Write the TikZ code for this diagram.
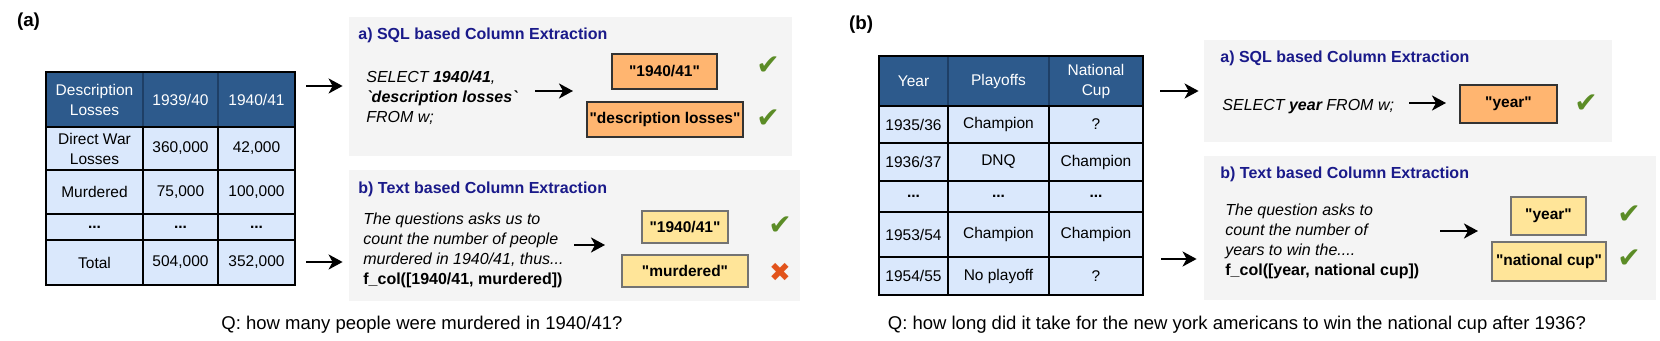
\documentclass[tikz,border=0pt]{standalone}
\usepackage{fontspec}
\setmainfont{Liberation Sans}
\newfontfamily\iconfont{DejaVu Sans}
\usepackage{xcolor}
\usetikzlibrary{positioning,arrows.meta}

\definecolor{hdrblue}{HTML}{2D5A8C}
\definecolor{hdrline}{HTML}{1E3F66}
\definecolor{cellblue}{HTML}{DAE8FC}
\definecolor{panelgray}{HTML}{F4F4F4}
\definecolor{titlenavy}{HTML}{1A1A8A}
\definecolor{sqlorange}{HTML}{FFB570}
\definecolor{textyellow}{HTML}{FFE599}
\definecolor{okgreen}{HTML}{5B8C26}
\definecolor{badred}{HTML}{E2531B}

\begin{document}
\begin{tikzpicture}[
		x=0.5pt, y=-0.5pt,
		every node/.style={font=\fontsize{8}{10}\selectfont},
		cell/.style={
			draw=black,
			line width=1.1pt,
			fill=cellblue,
			inner sep=0pt,
			align=center,
			font=\fontsize{7.75}{10}\selectfont
		},
		hcell/.style={cell, fill=hdrblue, draw=hdrline, text=white},
		panel/.style={fill=panelgray, inner sep=0pt},
		ptitle/.style={anchor=west, inner sep=0pt, text=titlenavy,
			font=\fontsize{8}{10}\selectfont\bfseries},
		ptext/.style={anchor=west, inner sep=0pt, align=left,
			font=\fontsize{8}{10}\selectfont\itshape},
		sqlbox/.style={draw=black!80, line width=0.7pt, fill=sqlorange,
			inner sep=0pt, font=\fontsize{7.75}{10}\selectfont\bfseries},
		txtbox/.style={sqlbox, fill=textyellow, draw=black!55},
		ok/.style={text=okgreen, inner sep=0pt, font=\iconfont\fontsize{14}{14}\selectfont},
		bad/.style={ok, text=badred, font=\iconfont\fontsize{13}{13}\selectfont},
		arr/.style={-{Stealth[length=7pt,width=7.5pt,inset=2pt]}, line width=1.2pt},
		question/.style={font=\fontsize{9.25}{11}\selectfont},
		tag/.style={font=\fontsize{9.4}{11}\selectfont\bfseries}
		]
		\useasboundingbox (0,0) rectangle (1660,341);
		
		% ---------------- (a) ----------------
		\node[tag] (taga) at (28.5,22) {(a)};
		
		\node[hcell, minimum width=48.5pt, minimum height=27.5pt] (ta-0-1) at (94.5,99.5) {Description\\Losses};
		\node[hcell, minimum width=37.5pt, minimum height=27.5pt] (ta-0-2) at (180.5,99.5) {1939/40};
		\node[hcell, minimum width=38.5pt, minimum height=27.5pt] (ta-0-3) at (256.5,99.5) {1940/41};
		\foreach \rw/\yc/\hh/\txa/\txb/\txc in {
			1/148.5/43/{Direct War\\Losses}/{360,000}/{42,000},
			2/192/44/Murdered/{75,000}/{100,000},
			3/227/26/\textbf{...}/\textbf{...}/\textbf{...},
			4/262.5/45/Total/{504,000}/{352,000}} {
			\node[cell, minimum width=48.5pt, minimum height=\hh*0.5pt] (ta-\rw-1) at (94.5,\yc) {\txa};
			\node[cell, minimum width=37.5pt, minimum height=\hh*0.5pt] (ta-\rw-2) at (180.5,\yc) {\txb};
			\node[cell, minimum width=38.5pt, minimum height=\hh*0.5pt] (ta-\rw-3) at (256.5,\yc) {\txc};
		}
		\draw[line width=1.4pt] (46,72) rectangle (295,285);
		
		\node[panel, minimum width=221.5pt, minimum height=69.5pt] (sqlA) at (570.5,86.5) {};
		\node[panel, minimum width=225.5pt, minimum height=65.5pt] (txtA) at (574.5,235.5) {};
		
		\node[ptitle] (sqlA-t) at (358,35) {a) SQL based Column Extraction};
		\node[ptitle] (txtA-t) at (358,189) {b) Text based Column Extraction};
		
		\node[ptext] (sqlA-q) at (366,98)
		{SELECT \textbf{1940/41},\\ \textbf{\textasciigrave description losses\textasciigrave}\\ FROM w;};
		\node[ptext] (txtA-q) at (363,250)
		{The questions asks us to\\ count the number of people\\ murdered in 1940/41, thus...\\
			{\upshape\bfseries f\_col([1940/41, murdered])}};
		
		\node[sqlbox, minimum width=52.5pt, minimum height=17.5pt] (sqlA-c1) at (664.5,71.5) {\textquotedbl 1940/41\textquotedbl};
		\node[sqlbox, minimum width=78pt, minimum height=17.5pt] (sqlA-c2) at (665,119.5) {\textquotedbl description losses\textquotedbl};
		\node[txtbox, minimum width=43pt, minimum height=16pt] (txtA-c1) at (685,227) {\textquotedbl 1940/41\textquotedbl};
		\node[txtbox, minimum width=63pt, minimum height=16pt] (txtA-c2) at (685,271) {\textquotedbl murdered\textquotedbl};
		
		\node[ok] (sqlA-k1) at (768,66) {✔};
		\node[ok] (sqlA-k2) at (768,119) {✔};
		\node[ok] (txtA-k1) at (780,226) {✔};
		\node[bad] (txtA-k2) at (780,272) {✖};
		
		\coordinate (ta-o1) at (306,86);
		\coordinate (ta-o2) at (306,262);
		\draw[arr, shorten >=3pt] (ta-o1) -- (ta-o1 -| sqlA.west);
		\draw[arr, shorten >=3pt] (ta-o2) -- (ta-o2 -| txtA.west);
		\coordinate (sqlA-s) at (535,91);
		\coordinate (sqlA-e) at (573,91);
		\draw[arr] (sqlA-s) -- (sqlA-e);
		\coordinate (txtA-s) at (574,245);
		\coordinate (txtA-e) at (605,245);
		\draw[arr] (txtA-s) -- (txtA-e);
		
		\node[question] (qa) at (422,325) {Q: how many people were murdered in 1940/41?};
		
		% ---------------- (b) ----------------
		\node[tag] (tagb) at (861,25) {(b)};
		
		\node[hcell, minimum width=34.5pt, minimum height=25pt] (tb-0-1) at (913.5,81) {Year};
		\node[hcell, minimum width=50.5pt, minimum height=25pt] (tb-0-2) at (998.5,81) {Playoffs};
		\node[hcell, minimum width=47pt, minimum height=25pt] (tb-0-3) at (1096,81) {National\\Cup};
		\foreach \rw/\yc/\hh/\txa/\txb/\txc in {
			1/124.5/37/{1935/36}/Champion/?,
			2/162/38/{1936/37}/DNQ/Champion,
			3/196.5/31/\textbf{...}/\textbf{...}/\textbf{...},
			4/234.5/45/{1953/54}/Champion/Champion,
			5/276/38/{1954/55}/No playoff/?} {
			\node[cell, minimum width=34.5pt, minimum height=\hh*0.5pt] (tb-\rw-1) at (913.5,\yc) {\txa};
			\node[cell, minimum width=50.5pt, minimum height=\hh*0.5pt] (tb-\rw-2) at (998.5,\yc) {\txb};
			\node[cell, minimum width=47pt, minimum height=\hh*0.5pt] (tb-\rw-3) at (1096,\yc) {\txc};
		}
		\draw[line width=1.4pt] (879,56) rectangle (1143,295);
		
		\node[panel, minimum width=204pt, minimum height=51pt] (sqlB) at (1408,91) {};
		\node[panel, minimum width=226pt, minimum height=72pt] (txtB) at (1430,228) {};
		
		\node[ptitle] (sqlB-t) at (1220,58) {a) SQL based Column Extraction};
		\node[ptitle] (txtB-t) at (1220,174) {b) Text based Column Extraction};
		
		\node[ptext] (sqlB-q) at (1222,107) {SELECT \textbf{year} FROM w;};
		\node[ptext] (txtB-q) at (1225,241)
		{The question asks to\\ count the number of\\ years to win the....\\
			{\upshape\bfseries f\_col([year, national cup])}};
		
		\node[sqlbox, minimum width=48.5pt, minimum height=19pt] (sqlB-c1) at (1508.5,104) {\textquotedbl year\textquotedbl};
		\node[txtbox, minimum width=37.5pt, minimum height=19pt] (txtB-c1) at (1548.5,216) {\textquotedbl year\textquotedbl};
		\node[txtbox, minimum width=57pt, minimum height=19.5pt] (txtB-c2) at (1549,261.5) {\textquotedbl national cup\textquotedbl};
		
		\node[ok] (sqlB-k1) at (1586,104) {✔};
		\node[ok] (txtB-k1) at (1629,215) {✔};
		\node[ok] (txtB-k2) at (1629,259) {✔};
		
		\coordinate (tb-o1) at (1160,91);
		\coordinate (tb-o2) at (1161,259);
		\draw[arr, shorten >=2.5pt] (tb-o1) -- (tb-o1 -| sqlB.west);
		\draw[arr, shorten >=3.5pt] (tb-o2) -- (tb-o2 -| txtB.west);
		\coordinate (sqlB-s) at (1409,103);
		\coordinate (sqlB-e) at (1446,103);
		\draw[arr] (sqlB-s) -- (sqlB-e);
		\coordinate (txtB-s) at (1440,231);
		\coordinate (txtB-e) at (1478,231);
		\draw[arr] (txtB-s) -- (txtB-e);
		
		\node[question] (qb) at (1237,325) {Q: how long did it take for the new york americans to win the national cup after 1936?};
		
	\end{tikzpicture}
\end{document}
